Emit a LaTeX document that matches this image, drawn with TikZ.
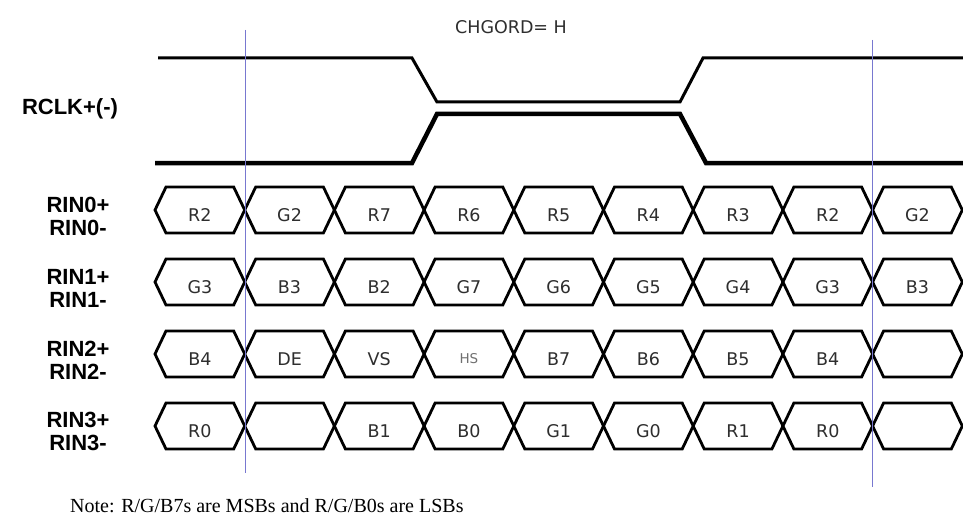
\documentclass[tikz,border=0pt]{standalone}
\usepackage{fontspec}
\setmainfont{Liberation Serif}
\newfontfamily\sigfont{Liberation Sans}
\newfontfamily\cellfont{DejaVu Sans}
\usepackage{tikz}
\usetikzlibrary{calc}
\definecolor{cursorB}{HTML}{7878d0}
\definecolor{cellTxt}{HTML}{2e2e2e}
\definecolor{hsTxt}{HTML}{707070}
% one data slot: name, left tip x, row centre y, text
\newcommand{\hexcell}[4]{\draw[cell] (#2,#3) -- ++(11,-23) -- ++(67.7,0) -- ++(11,23) -- ++(-11,23) -- ++(-67.7,0) -- cycle;
\node[celltxt] (#1) at (#2+44.85,#3+5) {#4};}
\newcommand{\hs}[1]{{\fontsize{13.5}{14}\selectfont\color{hsTxt}#1}}

\begin{document}
\begin{tikzpicture}[x=1pt,y=-1pt,cell/.style={draw, line width=2.8pt},celltxt/.style={font=\cellfont\fontsize{17.5}{18}\selectfont, text=cellTxt, inner sep=0pt},sig/.style={font=\sigfont\bfseries\fontsize{22}{23}\selectfont, align=center, inner sep=0pt},clk/.style={line width=3pt},cursor/.style={draw=cursorB, line width=1.1pt}]
\path[fill=white, use as bounding box] (0,0) rectangle (963,524);
\node[celltxt] (chg) at (511,27) {CHGORD= H};
\node[sig] (rclk) at (70,109) {RCLK+(-)};
\draw[clk] (158,58) -- (412,58) -- (437,102) -- (680,102) -- (703,58) -- (963,58);
\draw[clk, line width=4.5pt] (155,163) -- (412,163) -- (437,114) -- (680,114) -- (706,163) -- (963,163);
\node[sig] (rin0) at (78,216.5) {RIN0+\\RIN0-};
\node[sig] (rin1) at (78,288.5) {RIN1+\\RIN1-};
\node[sig] (rin2) at (78,360) {RIN2+\\RIN2-};
\node[sig] (rin3) at (78,431.5) {RIN3+\\RIN3-};
\foreach \t [count=\i from 0] in {R2,G2,R7,R6,R5,R4,R3,R2,G2} {\hexcell{a\i}{155+89.7*\i}{210}{\t}}
\foreach \t [count=\i from 0] in {G3,B3,B2,G7,G6,G5,G4,G3,B3} {\hexcell{b\i}{155+89.7*\i}{282}{\t}}
\foreach \t [count=\i from 0] in {B4,DE,VS,\hs{HS},B7,B6,B5,B4,{}} {\hexcell{c\i}{155+89.7*\i}{354}{\t}}
\foreach \t [count=\i from 0] in {R0,{},B1,B0,G1,G0,R1,R0,{}} {\hexcell{d\i}{155+89.7*\i}{426}{\t}}
\draw[cursor] (245.5,30) -- (245.5,473);
\draw[cursor] (872.5,40) -- (872.5,487);
\node[anchor=west, font=\fontsize{20}{22}\selectfont, inner sep=0pt] (note) at (70,506) {Note: R/G/B7s are MSBs and R/G/B0s are LSBs};
\end{tikzpicture}
\end{document}
